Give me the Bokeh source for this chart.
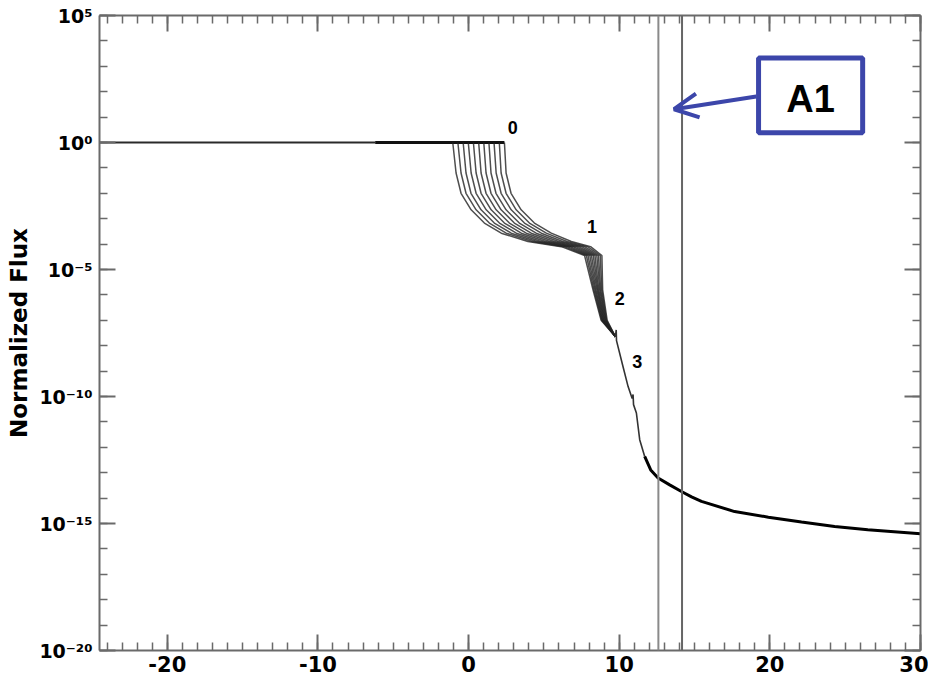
import numpy as np
from bokeh.plotting import figure
from bokeh.models import (FixedTicker, LinearAxis, LogAxis, Span, Label, Arrow,
                          OpenHead, CustomJSTickFormatter, Range1d, BoxAnnotation)
from bokeh.embed import file_html
from bokeh.resources import INLINE

# ---------------- data ----------------
x_ticks = [-20, -10, 0, 10, 20, 30]
x_tick_labels = ["-20", "-10", "0", "10", "20", "30"]
x_minor = list(range(-24, 31))
y_ticks = [1e-20, 1e-15, 1e-10, 1e-5, 1e0, 1e5]
y_tick_labels = ["10⁻²⁰", "10⁻¹⁵", "10⁻¹⁰", "10⁻⁵", "10⁰", "10⁵"]
y_minor = [10.0 ** e for e in range(-20, 6)]

# flat part of the flux (log10 of normalized flux)
flat_x = [-24.5, -6.2, 2.38]
flat_logy = [0.0, 0.0, 0.0]

# family of 11 curves: shared log10-flux levels, one x list per curve
fan_levels = [0.0, -1.2, -2.0, -2.65, -3.17, -3.57, -3.9, -4.1, -4.45, -5.8, -7.0, -7.65]
fan_x = [
    [-1.05, -0.83, -0.50, 0.17, 1.05, 2.17, 3.94, 6.16, 7.70, 8.26, 8.80, 9.75],
    [-0.71, -0.50, -0.17, 0.50, 1.38, 2.50, 4.23, 6.35, 7.82, 8.32, 8.84, 9.75],
    [-0.36, -0.17, 0.16, 0.83, 1.71, 2.83, 4.52, 6.55, 7.93, 8.39, 8.88, 9.75],
    [-0.02, 0.17, 0.50, 1.17, 2.05, 3.17, 4.80, 6.74, 8.05, 8.45, 8.92, 9.75],
    [0.32, 0.50, 0.83, 1.50, 2.38, 3.50, 5.09, 6.94, 8.16, 8.52, 8.96, 9.75],
    [0.67, 0.83, 1.16, 1.83, 2.71, 3.83, 5.38, 7.13, 8.28, 8.58, 9.00, 9.75],
    [1.01, 1.16, 1.49, 2.16, 3.04, 4.16, 5.67, 7.32, 8.39, 8.64, 9.04, 9.75],
    [1.35, 1.49, 1.82, 2.49, 3.37, 4.49, 5.96, 7.52, 8.51, 8.71, 9.08, 9.75],
    [1.69, 1.83, 2.16, 2.83, 3.71, 4.83, 6.24, 7.71, 8.62, 8.77, 9.12, 9.75],
    [2.04, 2.16, 2.49, 3.16, 4.04, 5.16, 6.53, 7.91, 8.74, 8.84, 9.16, 9.75],
    [2.38, 2.49, 2.82, 3.49, 4.37, 5.49, 6.82, 8.10, 8.85, 8.90, 9.20, 9.75],
]

# single tail after the bundle
tail_x = [9.75, 9.80, 9.82, 10.25, 10.59, 10.86, 10.92, 10.95, 11.14, 11.36, 11.69,
          12.09, 12.58, 13.35, 14.13, 14.8, 15.46, 17.66, 19.9, 22.1, 24.3, 26.5, 30.0]
tail_logy = [-7.65, -7.38, -7.80, -8.82, -9.61, -10.08, -9.92, -10.32, -10.65, -11.7, -12.36,
             -12.89, -13.21, -13.48, -13.74, -13.95, -14.13, -14.53, -14.75, -14.94, -15.12,
             -15.25, -15.4]
tail_thin_count = 11  # first points drawn as thin line

# vertical marker lines
v_lines = [12.6, 14.17]

BLUE = "#3c46aa"
AXC = "#6a6a6a"

p = figure(width=928, height=678, x_range=Range1d(-24.5, 30), y_range=Range1d(1e-20, 1e5),
           y_axis_type="log", output_backend="svg", toolbar_location=None,
           min_border_left=99, min_border_right=8, min_border_top=15, min_border_bottom=28)
p.outline_line_color = None
p.xgrid.visible = False
p.ygrid.visible = False
p.background_fill_color = "white"


def style_axis(ax, labels):
    ax.axis_line_color = AXC
    ax.axis_line_width = 2
    ax.major_tick_in = 16
    ax.major_tick_out = 0
    ax.minor_tick_in = 8
    ax.minor_tick_out = 0
    ax.major_tick_line_color = AXC
    ax.minor_tick_line_color = AXC
    ax.major_tick_line_width = 2
    ax.minor_tick_line_width = 1.5
    if labels:
        ax.major_label_text_font = "DejaVu Sans"
        ax.major_label_text_font_style = "bold"
        ax.major_label_text_color = "black"
    else:
        ax.formatter = CustomJSTickFormatter(code="return '';")
        ax.major_label_text_font_size = "1px"
        ax.major_label_standoff = 0


lookup = """
for (let i = 0; i < vals.length; i++) {
  if (Math.abs(%s - %s) < 1e-6) return labs[i];
}
return '';
"""
xfmt = CustomJSTickFormatter(args=dict(vals=x_ticks, labs=x_tick_labels),
                             code=lookup % ("tick", "vals[i]"))
yfmt = CustomJSTickFormatter(args=dict(vals=y_ticks, labs=y_tick_labels),
                             code=lookup % ("Math.log10(tick)", "Math.log10(vals[i])"))

xa = p.xaxis[0]
xa.ticker = FixedTicker(ticks=x_ticks, minor_ticks=x_minor)
xa.formatter = xfmt
style_axis(xa, True)
xa.major_label_text_font_size = "21px"
xa.major_label_standoff = 5

ya = p.yaxis[0]
ya.ticker = FixedTicker(ticks=y_ticks, minor_ticks=y_minor)
ya.formatter = yfmt
style_axis(ya, True)
ya.major_label_text_font_size = "19px"
ya.major_label_standoff = 7
ya.axis_label = "Normalized Flux"
ya.axis_label_text_font = "DejaVu Sans"
ya.axis_label_text_font_style = "bold"
ya.axis_label_text_font_size = "23px"
ya.axis_label_text_color = "black"
ya.axis_label_standoff = 4

top = LinearAxis(ticker=FixedTicker(ticks=x_ticks, minor_ticks=x_minor))
style_axis(top, False)
p.add_layout(top, "above")
right = LogAxis(ticker=FixedTicker(ticks=y_ticks, minor_ticks=y_minor))
style_axis(right, False)
p.add_layout(right, "right")

for xv, col in zip(v_lines, ["#8a8a8a", "#666666"]):
    p.add_layout(Span(location=xv, dimension="height", line_color=col, line_width=2))

# curves
fy = 10.0 ** np.array(flat_logy)
p.line(flat_x[:2], fy[:2], line_color="#2a2a2a", line_width=1.8)
p.line(flat_x[1:], fy[1:], line_color="#111111", line_width=2.8)
fan_y = 10.0 ** np.array(fan_levels)
for xs in fan_x:
    p.line(xs, fan_y, line_color="#222222", line_width=1.5, line_alpha=0.8)
ty = 10.0 ** np.array(tail_logy)
p.line(tail_x[:tail_thin_count], ty[:tail_thin_count], line_color="#333333", line_width=1.6)
p.line(tail_x[tail_thin_count - 1:], ty[tail_thin_count - 1:], line_color="black", line_width=3)

# number labels
for txt, lx, ly in [("0", 2.93, 10 ** 0.6), ("1", 8.2, 10 ** -3.31),
                    ("2", 10.03, 10 ** -6.13), ("3", 11.2, 10 ** -8.62)]:
    p.add_layout(Label(x=lx, y=ly, text=txt, text_align="center", text_baseline="middle",
                       text_font="Liberation Sans", text_font_style="bold",
                       text_font_size="18px", text_color="black"))

# A1 annotation
p.add_layout(BoxAnnotation(left=19.25, right=26.16, bottom=10 ** 0.38, top=10 ** 3.33,
                           fill_color="white", fill_alpha=1.0, line_color=BLUE,
                           line_width=5, line_alpha=1.0))
p.add_layout(Label(x=22.7, y=10 ** 1.72, text="A1", text_align="center", text_baseline="middle",
                   text_font="Liberation Sans", text_font_style="bold",
                   text_font_size="38px", text_color="black"))
p.add_layout(Arrow(end=OpenHead(size=24, line_color=BLUE, line_width=4),
                   x_start=19.1, y_start=10 ** 1.81, x_end=13.64, y_end=10 ** 1.31,
                   line_color=BLUE, line_width=4))

open("out.html", "w").write(file_html(p, INLINE))
